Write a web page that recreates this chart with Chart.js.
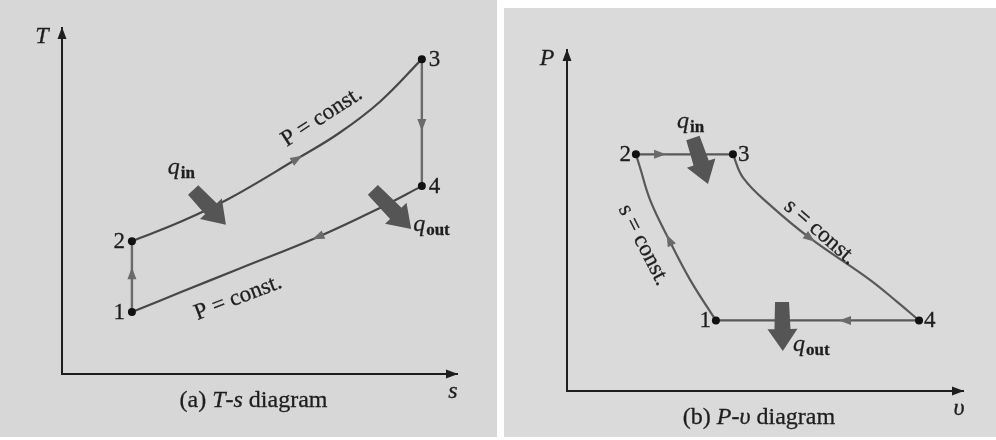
<!DOCTYPE html>
<html>
<head>
<meta charset="utf-8">
<script src="https://cdn.jsdelivr.net/npm/chart.js@4"></script>
<style>
  body { margin: 0; background: #fff; }
  .panel { position: absolute; }
  canvas { display: block; }
</style>
</head>
<body>
<div class="panel" style="left:0;top:0;width:497px;height:437px;background:#d7d7d7">
  <canvas id="ts" width="497" height="437"></canvas>
</div>
<div class="panel" style="left:504px;top:8px;width:492px;height:429px;background:#dadada">
  <canvas id="pv" width="492" height="429"></canvas>
</div>
<script>
'use strict';

// (a) T-s diagram, state points 1..4
var tsStates = ['1', '2', '3', '4'];
var tsStateS = [1.77, 1.77, 9.11, 9.11];
var tsStateT = [1.79, 3.84, 9.10, 5.43];
// processes (order = flow direction)
var ts12S = [1.77, 1.77, 1.77];
var ts12T = [1.79, 2.91, 3.84];
var ts23S = [1.77, 3.00, 4.20, 5.95, 7.00, 8.05, 9.11];
var ts23T = [3.84, 4.40, 5.05, 6.22, 6.95, 7.87, 9.10];
var ts34S = [9.11, 9.11, 9.11];
var ts34T = [9.10, 7.20, 5.43];
var ts41S = [9.11, 8.05, 6.48, 4.50, 3.00, 1.77];
var ts41T = [5.43, 4.80, 3.96, 3.05, 2.36, 1.79];

// (b) P-v diagram
var pvStates = ['1', '2', '3', '4'];
var pvStateV = [3.76, 1.74, 4.19, 8.89];
var pvStateP = [2.07, 6.94, 6.94, 2.07];
var pv12V = [3.76, 3.11, 2.58, 2.10, 1.84, 1.74];
var pv12P = [2.07, 3.26, 4.43, 5.60, 6.57, 6.94];
var pv23V = [1.74, 2.35, 4.19];
var pv23P = [6.94, 6.94, 6.94];
var pv34V = [4.19, 4.45, 5.13, 6.14, 7.65, 8.33, 8.89];
var pv34P = [6.94, 6.25, 5.45, 4.48, 3.26, 2.62, 2.07];
var pv41V = [8.89, 7.02, 3.76];
var pv41P = [2.07, 2.07, 2.07];

var SERIF = '"Liberation Serif", "DejaVu Serif", serif';
var INK = '#1e1e1e';

function pts(xs, ys) {
  return xs.map(function (x, i) { return {x: x, y: ys[i]}; });
}

function proc(xs, ys, arrowAt, color, width, curved) {
  return {
    data: pts(xs, ys),
    showLine: true,
    borderColor: color,
    borderWidth: width,
    pointRadius: 0,
    tension: curved ? 0.4 : 0,
    arrowAt: arrowAt,
    order: 2
  };
}

function states(xs, ys) {
  return {
    data: pts(xs, ys),
    showLine: false,
    pointRadius: 4,
    pointBackgroundColor: '#111',
    pointBorderWidth: 0,
    order: 1
  };
}

function tri(ctx, x, y, ux, uy, len, hw) {
  ctx.beginPath();
  ctx.moveTo(x, y);
  ctx.lineTo(x - ux * len - uy * hw, y - uy * len + ux * hw);
  ctx.lineTo(x - ux * len + uy * hw, y - uy * len - ux * hw);
  ctx.closePath();
  ctx.fill();
}

function fatArrow(ctx, x0, y0, x1, y1) {
  var dx = x1 - x0, dy = y1 - y0, len = Math.hypot(dx, dy);
  var ux = dx / len, uy = dy / len, nx = -uy, ny = ux;
  var head = 22;
  var bx = x1 - ux * head, by = y1 - uy * head;
  var w0 = 7, w1 = 8, hw = 15;
  ctx.beginPath();
  ctx.moveTo(x0 + nx * w0, y0 + ny * w0);
  ctx.lineTo(bx + nx * w1, by + ny * w1);
  ctx.lineTo(bx + nx * hw, by + ny * hw);
  ctx.lineTo(x1, y1);
  ctx.lineTo(bx - nx * hw, by - ny * hw);
  ctx.lineTo(bx - nx * w1, by - ny * w1);
  ctx.lineTo(x0 - nx * w0, y0 - ny * w0);
  ctx.closePath();
  ctx.fill();
}

// fill plus a hairline stroke, the printed type is heavy
function ink(ctx, text, x, y) {
  ctx.fillText(text, x, y);
  ctx.strokeText(text, x, y);
}

var cycleDecor = {
  id: 'cycleDecor',
  afterDatasetsDraw: function (chart, args, o) {
    var ctx = chart.ctx, a = chart.chartArea;
    var X = function (v) { return chart.scales.x.getPixelForValue(v); };
    var Y = function (v) { return chart.scales.y.getPixelForValue(v); };
    ctx.save();

    // axis arrowheads
    ctx.fillStyle = INK;
    tri(ctx, a.left, a.top - 1, 0, -1, 12, 4.5);
    tri(ctx, a.right + 1, a.bottom, 1, 0, 12, 4.5);

    // flow arrowheads on the processes
    chart.data.datasets.forEach(function (ds, i) {
      if (ds.arrowAt === undefined) return;
      var el = chart.getDatasetMeta(i).data;
      var p = el[ds.arrowAt], b = el[ds.arrowAt - 1], c = el[ds.arrowAt + 1];
      var dx = c.x - b.x, dy = c.y - b.y, l = Math.hypot(dx, dy);
      ctx.fillStyle = '#6a6a6a';
      tri(ctx, p.x + dx / l * 6, p.y + dy / l * 6, dx / l, dy / l, 12, 4.5);
    });

    // heat arrows
    ctx.fillStyle = '#555';
    o.heat.forEach(function (h) {
      fatArrow(ctx, X(h.from[0]), Y(h.from[1]), X(h.to[0]), Y(h.to[1]));
    });

    ctx.fillStyle = INK;
    ctx.strokeStyle = INK;
    ctx.lineWidth = 0.3;
    // state numbers
    var st = chart.getDatasetMeta(o.stateSet).data;
    ctx.font = '23px ' + SERIF;
    ctx.textBaseline = 'middle';
    o.stateNames.forEach(function (name, i) {
      var left = o.stateSide[i] === 'left';
      ctx.textAlign = left ? 'right' : 'left';
      ink(ctx, name, st[i].x + (left ? -o.gap : o.gap), st[i].y + 1);
    });

    // rotated notes
    ctx.textAlign = 'center';
    ctx.font = '23px ' + SERIF;
    o.notes.forEach(function (n) {
      ctx.save();
      ctx.translate(X(n.at[0]), Y(n.at[1]));
      ctx.rotate(n.angle * Math.PI / 180);
      ink(ctx, n.text, 0, 0);
      ctx.restore();
    });

    // q labels
    ctx.textAlign = 'left';
    ctx.textBaseline = 'alphabetic';
    o.q.forEach(function (q) {
      var x = X(q.at[0]), y = Y(q.at[1]);
      ctx.font = 'italic 24px ' + SERIF;
      ink(ctx, 'q', x, y);
      var w = ctx.measureText('q').width;
      ctx.font = 'bold 17px ' + SERIF;
      ink(ctx, q.sub, x + w + 1, y + 4);
    });

    // axis names
    ctx.font = 'italic 24px ' + SERIF;
    ctx.textAlign = 'center';
    ctx.textBaseline = 'middle';
    ink(ctx, o.yName, a.left - 20, a.top + 9);
    ink(ctx, o.xName, a.right - 4, a.bottom + 18);

    // caption
    var parts = o.caption, total = 0;
    parts.forEach(function (p) {
      ctx.font = (p[1] ? 'italic ' : '') + '24px ' + SERIF;
      total += ctx.measureText(p[0]).width;
    });
    var cx = (a.left + a.right) / 2 - 6 - total / 2, cy = a.bottom + 27;
    ctx.textAlign = 'left';
    parts.forEach(function (p) {
      ctx.font = (p[1] ? 'italic ' : '') + '24px ' + SERIF;
      ink(ctx, p[0], cx, cy);
      cx += ctx.measureText(p[0]).width;
    });

    ctx.restore();
  }
};

function axis() {
  return {
    type: 'linear', min: 0, max: 10,
    grid: {display: false, drawTicks: false},
    ticks: {display: false},
    border: {display: true, color: INK, width: 2}
  };
}

function makeChart(id, datasets, pad, decor) {
  return new Chart(document.getElementById(id), {
    type: 'scatter',
    data: {datasets: datasets},
    options: {
      responsive: false,
      animation: false,
      events: [],
      layout: {padding: pad},
      scales: {x: axis(), y: axis()},
      plugins: {
        legend: {display: false},
        tooltip: {enabled: false},
        cycleDecor: decor
      }
    },
    plugins: [cycleDecor]
  });
}

makeChart('ts', [
  proc(ts12S, ts12T, 1, '#6a6a6a', 2.4, false),
  proc(ts23S, ts23T, 3, '#474747', 2.2, true),
  proc(ts34S, ts34T, 1, '#6a6a6a', 2.4, false),
  proc(ts41S, ts41T, 2, '#474747', 2.2, true),
  states(tsStateS, tsStateT)
], {left: 62, top: 28, right: 40, bottom: 63}, {
  stateSet: 4,
  stateNames: tsStates,
  stateSide: ['left', 'left', 'right', 'right'],
  gap: 7,
  heat: [
    {from: [3.32, 5.32], to: [4.15, 4.31]},
    {from: [7.87, 5.32], to: [8.84, 4.19]}
  ],
  notes: [
    {text: 'P = const.', at: [6.58, 7.43], angle: -33},
    {text: 'P = const.', at: [4.46, 2.20], angle: -21}
  ],
  q: [
    {sub: 'in', at: [2.68, 5.78]},
    {sub: 'out', at: [8.89, 4.13]}
  ],
  yName: 'T',
  xName: 's',
  caption: [['(a) ', false], ['T', true], ['-', false], ['s', true], [' diagram', false]]
});

makeChart('pv', [
  proc(pv12V, pv12P, 2, '#585858', 2.2, true),
  proc(pv23V, pv23P, 1, '#585858', 2.2, false),
  proc(pv34V, pv34P, 3, '#585858', 2.2, true),
  proc(pv41V, pv41P, 1, '#585858', 2.2, false),
  states(pvStateV, pvStateP)
], {left: 63, top: 42, right: 33, bottom: 46}, {
  stateSet: 4,
  stateNames: pvStates,
  stateSide: ['left', 'left', 'right', 'right'],
  gap: 5,
  heat: [
    {from: [3.18, 7.42], to: [3.56, 6.07]},
    {from: [5.43, 2.61], to: [5.45, 1.17]}
  ],
  notes: [
    {text: 's = const.', at: [1.93, 4.28], angle: 63},
    {text: 's = const.', at: [6.39, 4.66], angle: 41}
  ],
  q: [
    {sub: 'in', at: [2.78, 7.71]},
    {sub: 'out', at: [5.71, 1.17]}
  ],
  yName: 'P',
  xName: '\u03c5',
  caption: [['(b) ', false], ['P', true], ['-', false], ['\u03c5', true], [' diagram', false]]
});
</script>
</body>
</html>
